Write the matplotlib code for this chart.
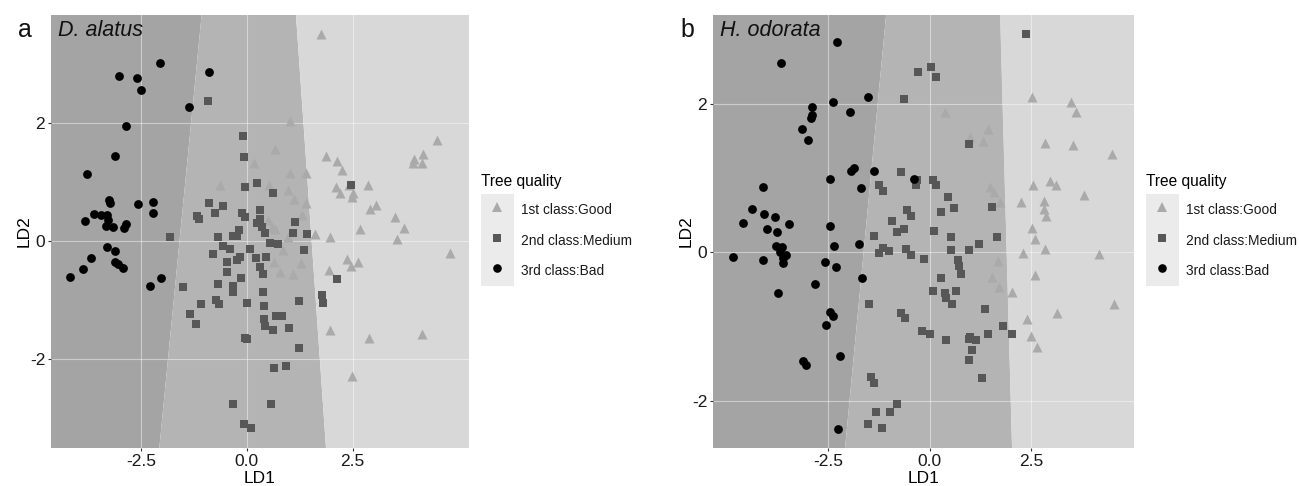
import numpy as np
import matplotlib
matplotlib.use("Agg")
import matplotlib.pyplot as plt
from matplotlib.patches import Rectangle
from matplotlib.legend_handler import HandlerLine2D
from matplotlib.lines import Line2D

plt.rcParams['font.family'] = ['Liberation Sans', 'DejaVu Sans']
plt.rcParams['axes.unicode_minus'] = False

# =========================
# DATA
# =========================
CLASSES = ["1st class:Good", "2nd class:Medium", "3rd class:Bad"]
PANEL_LETTERS = ["a", "b"]
SPECIES = ["D. alatus", "H. odorata"]

# panel a - D. alatus
A_GOOD = [(1.75, 3.51), (1.02, 2.03), (0.67, 1.57), (0.17, 1.33), (1.87, 1.44), (2.14, 1.36),
          (2.25, 1.20), (1.01, 1.15), (1.40, 1.15), (4.50, 1.72), (3.95, 1.40), (4.17, 1.47),
          (3.92, 1.33), (4.13, 1.33), (-0.64, 0.95), (0.53, 0.95), (0.98, 0.86), (1.12, 0.71),
          (1.40, 0.65), (1.30, 0.44), (2.11, 0.92), (2.21, 0.81), (2.41, 0.95), (2.51, 0.82),
          (2.48, 0.75), (2.86, 0.95), (2.90, 0.54), (3.06, 0.61), (3.49, 0.40), (3.71, 0.22),
          (3.55, 0.03), (4.81, -0.20), (2.68, 0.20), (1.97, 0.07), (1.61, 0.11), (0.51, 0.35),
          (0.59, 0.24), (0.66, 0.20), (0.98, 0.06), (0.86, -0.15), (1.28, -0.37), (1.08, -0.57),
          (0.78, -0.53), (0.64, -0.36), (1.93, -0.49), (2.37, -0.31), (2.47, -0.43), (2.63, -0.36),
          (1.97, -1.51), (2.88, -1.65), (4.14, -1.59), (2.49, -2.30)]
A_MEDIUM = [(-0.92, 2.38), (-0.09, 1.79), (-0.06, 1.43), (-0.04, 0.92), (0.23, 0.99), (0.61, 0.82),
            (-0.89, 0.65), (-0.56, 0.59), (-0.75, 0.48), (-1.19, 0.42), (-1.14, 0.38), (-0.12, 0.48),
            (-0.04, 0.41), (0.31, 0.53), (0.31, 0.38), (0.23, 0.31), (0.35, 0.24), (-0.18, 0.18),
            (-0.24, 0.08), (-0.32, 0.08), (-0.69, 0.07), (-1.82, 0.07), (-0.57, -0.09), (-0.40, -0.13),
            (0.07, -0.14), (0.43, 0.14), (0.55, -0.03), (0.73, -0.06), (1.14, 0.32), (1.10, 0.14),
            (1.43, 0.12), (1.36, -0.15), (-0.81, -0.23), (-0.46, -0.36), (-0.16, -0.27), (-0.24, -0.33),
            (0.22, -0.29), (0.45, -0.27), (0.31, -0.44), (0.39, -0.57), (-0.48, -0.53), (-0.15, -0.63),
            (-0.32, -0.77), (-0.69, -0.74), (-1.52, -0.79), (0.39, -0.86), (-0.32, -0.87), (-0.73, -1.00),
            (-0.67, -1.08), (-1.09, -1.07), (0.01, -1.06), (1.24, -1.02), (1.77, -0.92), (1.81, -1.05),
            (2.13, -0.65), (2.46, 0.95), (0.41, -1.11), (-1.34, -1.24), (-1.21, -1.41), (0.41, -1.33),
            (0.43, -1.44), (0.61, -1.52), (0.69, -1.27), (0.82, -1.27), (1.00, -1.48), (1.23, -1.82),
            (-0.04, -1.65), (0.00, -1.67), (0.63, -2.16), (0.93, -2.12), (-0.34, -2.78), (0.56, -2.78),
            (-0.08, -3.11), (0.09, -3.18)]
A_BAD = [(-2.05, 3.02), (-3.03, 2.80), (-2.59, 2.77), (-2.51, 2.57), (-0.90, 2.87), (-1.38, 2.28),
         (-2.85, 1.96), (-3.12, 1.45), (-3.77, 1.13), (-3.26, 0.69), (-3.23, 0.64), (-2.57, 0.63),
         (-2.21, 0.66), (-2.21, 0.48), (-3.82, 0.33), (-3.61, 0.45), (-3.46, 0.44), (-3.30, 0.44),
         (-3.28, 0.35), (-3.32, 0.25), (-3.16, 0.23), (-2.90, 0.22), (-2.85, 0.28), (-3.31, -0.10),
         (-3.12, -0.17), (-3.68, -0.29), (-3.12, -0.35), (-3.04, -0.40), (-2.92, -0.46), (-3.87, -0.48),
         (-4.17, -0.61), (-2.29, -0.77), (-2.04, -0.63)]

# panel b - H. odorata
B_GOOD = [(2.51, 2.09), (3.47, 2.02), (3.61, 1.88), (0.38, 1.88), (1.43, 1.66), (1.00, 1.55),
          (1.31, 1.49), (2.83, 1.47), (3.53, 1.44), (4.48, 1.32), (2.55, 0.91), (2.96, 0.96),
          (3.12, 0.91), (1.49, 0.88), (1.59, 0.81), (1.74, 0.67), (2.26, 0.67), (2.81, 0.69),
          (2.81, 0.58), (2.87, 0.49), (3.79, 0.77), (2.52, 0.33), (2.60, 0.18), (2.83, 0.05),
          (2.31, -0.01), (4.17, -0.02), (1.68, -0.11), (1.53, -0.33), (1.72, -0.47), (2.03, -0.53),
          (2.60, -0.30), (4.54, -0.69), (3.14, -0.82), (2.40, -0.89), (2.50, -1.12), (2.64, -1.27)]
B_MEDIUM = [(2.38, 2.93), (0.04, 2.49), (0.15, 2.35), (-0.29, 2.43), (-0.63, 2.06), (0.98, 1.45),
            (-0.71, 1.08), (-0.32, 0.97), (-0.34, 0.91), (0.08, 0.97), (0.15, 0.90), (-1.24, 0.90),
            (-1.14, 0.82), (0.45, 0.75), (0.60, 0.60), (0.27, 0.54), (1.53, 0.61), (-0.55, 0.57),
            (-0.46, 0.49), (-0.92, 0.42), (-0.64, 0.32), (-0.81, 0.27), (0.11, 0.29), (-1.36, 0.22),
            (0.53, 0.20), (1.21, 0.11), (1.66, 0.21), (-1.14, 0.06), (-1.25, -0.01), (-1.00, 0.02),
            (-0.58, 0.05), (-0.46, -0.04), (0.53, 0.03), (0.98, 0.03), (-0.14, -0.09), (0.70, -0.10),
            (0.73, -0.19), (0.78, -0.29), (0.27, -0.34), (0.08, -0.52), (0.38, -0.54), (0.40, -0.61),
            (0.55, -0.69), (0.65, -0.52), (-1.49, -0.70), (1.37, -0.76), (-0.71, -0.81), (-0.60, -0.88),
            (1.80, -0.99), (2.03, -1.10), (1.43, -1.10), (-0.18, -1.06), (0.01, -1.10), (0.41, -1.18),
            (1.00, -1.14), (0.98, -1.17), (1.15, -1.18), (1.04, -1.31), (0.97, -1.45), (1.29, -1.69),
            (-1.45, -1.68), (-1.37, -1.76), (-0.79, -2.04), (-0.97, -2.14), (-1.33, -2.15), (-1.51, -2.31),
            (-1.16, -2.36)]
B_BAD = [(-2.27, 2.83), (-3.66, 2.54), (-1.52, 2.09), (-2.37, 2.02), (-2.89, 1.96), (-2.90, 1.85),
         (-2.92, 1.80), (-1.97, 1.89), (-3.14, 1.66), (-2.99, 1.51), (-1.86, 1.14), (-1.93, 1.09),
         (-1.37, 1.09), (-2.45, 0.99), (-0.38, 0.99), (-4.10, 0.88), (-1.70, 0.87), (-4.36, 0.58),
         (-4.08, 0.52), (-3.81, 0.48), (-4.59, 0.39), (-3.47, 0.38), (-3.99, 0.31), (-3.76, 0.27),
         (-2.45, 0.35), (-3.77, 0.09), (-3.63, 0.07), (-3.69, 0.01), (-3.54, -0.03), (-3.61, -0.08),
         (-3.61, -0.15), (-4.84, -0.06), (-4.11, -0.10), (-2.36, 0.08), (-1.74, 0.11), (-2.58, -0.13),
         (-2.31, -0.20), (-1.67, -0.34), (-2.81, -0.43), (-3.73, -0.54), (-2.44, -0.80), (-2.38, -0.86),
         (-2.55, -0.98), (-2.21, -1.39), (-3.11, -1.46), (-3.03, -1.52), (-2.25, -2.37)]

# decision boundaries: x at top edge, x at bottom edge (bad|medium, medium|good)
A_BOUNDS = [(-1.07, -2.07), (1.16, 1.87)]
B_BOUNDS = [(-1.07, -2.08), (1.74, 2.03)]

A_XLIM, A_YLIM = (-4.63, 5.25), (-3.52, 3.84)
B_XLIM, B_YLIM = (-5.33, 5.03), (-2.63, 3.19)

X_TICKS = [-2.5, 0.0, 2.5]
Y_TICKS = [-2, 0, 2]

# =========================
# STYLE
# =========================
REGION_COLORS = ["#a4a4a4", "#b4b4b4", "#d8d8d8"]   # bad, medium, good area
MARKERS = {"1st class:Good": ("^", "#aaaaaa", 52),
           "2nd class:Medium": ("s", "#575757", 36),
           "3rd class:Bad": ("o", "#000000", 40)}
KEY_BG = "#ebebeb"


class KeyHandler(HandlerLine2D):
    """legend key with ggplot-like grey box behind the marker"""
    def create_artists(self, legend, orig_handle, xdescent, ydescent,
                       width, height, fontsize, trans):
        sep = legend.labelspacing * fontsize
        rect = Rectangle((-xdescent, -ydescent - sep / 2), width, height + sep,
                         facecolor=KEY_BG, edgecolor="none", transform=trans)
        arts = super().create_artists(legend, orig_handle, xdescent, ydescent,
                                      width, height, fontsize, trans)
        return [rect] + arts


def draw_panel(ax, good, medium, bad, bounds, xlim, ylim, letter, species):
    x0, x1 = xlim
    y0, y1 = ylim
    (b1t, b1b), (b2t, b2b) = bounds
    ax.fill([x0, b1t, b1b, x0], [y1, y1, y0, y0], color=REGION_COLORS[0], lw=0, zorder=0)
    ax.fill([b1t, b2t, b2b, b1b], [y1, y1, y0, y0], color=REGION_COLORS[1], lw=0, zorder=0)
    ax.fill([b2t, x1, x1, b2b], [y1, y1, y0, y0], color=REGION_COLORS[2], lw=0, zorder=0)

    for name, pts in zip(CLASSES, [good, medium, bad]):
        pts = np.array(pts)
        m, c, s = MARKERS[name]
        ax.scatter(pts[:, 0], pts[:, 1], marker=m, color=c, s=s, lw=0, zorder=3)

    ax.set_xlim(xlim)
    ax.set_ylim(ylim)
    ax.set_xticks(X_TICKS)
    ax.set_xticklabels([f"{t:.1f}" for t in X_TICKS])
    ax.set_yticks(Y_TICKS)
    ax.set_axisbelow("line")
    ax.grid(True, color="white", lw=0.8, alpha=0.45)
    for sp in ax.spines.values():
        sp.set_visible(False)
    ax.tick_params(length=2.2, width=0.8, color="#333333", labelsize=12.5,
                   labelcolor="#1a1a1a", pad=2)
    ax.set_xlabel("LD1", fontsize=12.5, labelpad=1.5)
    ax.set_ylabel("LD2", fontsize=12.5, labelpad=-1)

    ax.text(0.017, 0.965, species, transform=ax.transAxes, fontsize=15.5,
            style="italic", ha="left", va="center", color="#111111")
    ax.text(-0.078, 0.965, letter, transform=ax.transAxes, fontsize=18,
            ha="left", va="center", color="#111111")

    handles = []
    for name in CLASSES:
        m, c, s = MARKERS[name]
        handles.append(Line2D([], [], marker=m, color=c, ls="none", markersize=6.2 if m != "^" else 6.8,
                              markeredgewidth=0))
    leg = ax.legend(handles, CLASSES, title="Tree quality", loc="center left",
                    bbox_to_anchor=(1.028, 0.51), frameon=False, fontsize=9.9,
                    title_fontsize=11.2, alignment="left", borderpad=0, borderaxespad=0,
                    labelspacing=0.8, handleheight=1.8, handlelength=2.4,
                    handletextpad=0.5,
                    handler_map={Line2D: KeyHandler()})
    for t in leg.get_texts():
        t.set_color("#1a1a1a")


# =========================
# FIGURE
# =========================
fig = plt.figure(figsize=(12.99, 4.86), dpi=100)
ax_a = fig.add_axes([51 / 1299, 38 / 486, 418 / 1299, 433 / 486])
ax_b = fig.add_axes([713 / 1299, 38 / 486, 421 / 1299, 433 / 486])

draw_panel(ax_a, A_GOOD, A_MEDIUM, A_BAD, A_BOUNDS, A_XLIM, A_YLIM, PANEL_LETTERS[0], SPECIES[0])
draw_panel(ax_b, B_GOOD, B_MEDIUM, B_BAD, B_BOUNDS, B_XLIM, B_YLIM, PANEL_LETTERS[1], SPECIES[1])

fig.savefig("out.png", dpi=100, facecolor="white")
